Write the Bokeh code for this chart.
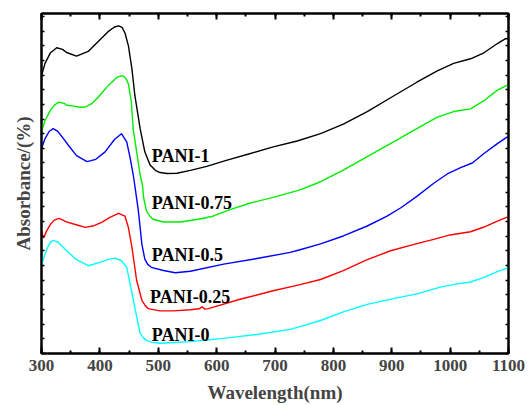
from bokeh.plotting import figure
from bokeh.models import LinearAxis, SingleIntervalTicker, Range1d, Label, CustomJSTickFormatter
from bokeh.embed import file_html
from bokeh.resources import INLINE

# ---- data (wavelength in nm, absorbance in arbitrary offset units) ----
wl_pani1 = [300, 306, 315, 326, 336, 343, 360, 380, 395, 414, 425, 432, 438, 443, 449, 455, 460, 469, 477, 486,
            495, 503, 515, 532, 555, 583, 618, 658, 697, 738, 778, 817, 858, 898, 943, 978, 1006,
            1035, 1058, 1081, 1095, 1100]
abs_pani1 = [1.894, 1.980, 2.050, 2.086, 2.075, 2.054, 2.029, 2.061, 2.120, 2.196, 2.228, 2.236, 2.225, 2.187, 2.097, 1.939,
             1.759, 1.534, 1.376, 1.286, 1.250, 1.235, 1.228, 1.230, 1.250, 1.277, 1.320, 1.365, 1.410, 1.450,
             1.500, 1.565, 1.650, 1.745, 1.851, 1.928, 1.980, 2.011, 2.052, 2.115, 2.149, 2.145]

wl_pani075 = [300, 306, 315, 322, 329, 339, 342, 355, 366, 375, 386, 397, 415, 428, 436, 440, 445, 449, 454, 457, 463, 469, 473,
              475, 480, 486, 492, 509, 538, 566, 583, 586, 589, 623, 658, 697, 743, 778, 817, 858,
              903, 943, 978, 1006, 1035, 1058, 1081, 1098, 1100]
abs_pani075 = [1.511, 1.590, 1.657, 1.695, 1.714, 1.707, 1.696, 1.688, 1.680, 1.682, 1.705, 1.748, 1.831, 1.880, 1.894, 1.893, 1.875, 1.838, 1.714,
               1.534, 1.376, 1.218, 1.149, 1.061, 0.971, 0.935, 0.914, 0.897, 0.897, 0.914, 0.926, 0.934,
               0.930, 0.982, 1.027, 1.065, 1.117, 1.172, 1.252, 1.343, 1.444, 1.534, 1.613, 1.651,
               1.669, 1.725, 1.797, 1.831, 1.822]

wl_pani05 = [300, 306, 313, 320, 328, 336, 346, 360, 378, 393, 409, 425, 437, 446, 452, 457, 460, 466, 472, 477, 482, 488, 509,
             529, 555, 612, 669, 726, 743, 778, 817, 858, 892, 915, 943, 972, 995, 1018, 1038,
             1058, 1081, 1098, 1100]
abs_pani05 = [1.399, 1.465, 1.515, 1.534, 1.515, 1.475, 1.421, 1.350, 1.309, 1.325, 1.376, 1.460, 1.500, 1.444, 1.331, 1.223, 1.142, 0.971,
              0.745, 0.644, 0.608, 0.588, 0.566, 0.551, 0.561, 0.610, 0.648, 0.690, 0.708, 0.748, 0.802,
              0.870, 0.937, 0.993, 1.072, 1.162, 1.225, 1.268, 1.300, 1.365, 1.432, 1.478, 1.473]

wl_pani025 = [300, 302, 304, 308, 315, 322, 330, 337, 341, 358, 375, 390, 403, 418, 432, 443, 449, 455, 463, 472, 478, 483, 503,
              526, 555, 570, 575, 580, 586, 640, 697, 743, 778, 817, 858, 898, 943, 972, 1000,
              1035, 1058, 1081, 1098, 1100]
abs_pani025 = [0.836, 0.805, 0.791, 0.830, 0.880, 0.910, 0.922, 0.910, 0.900, 0.880, 0.861, 0.872, 0.895, 0.930, 0.956, 0.937, 0.858, 0.723,
               0.498, 0.363, 0.325, 0.306, 0.291, 0.291, 0.299, 0.305, 0.318, 0.303, 0.306, 0.370, 0.428,
               0.470, 0.505, 0.566, 0.640, 0.701, 0.750, 0.779, 0.809, 0.831, 0.863, 0.903, 0.930,
               0.921]

wl_pani0 = [300, 305, 310, 315, 320, 328, 343, 360, 380, 400, 415, 426, 437, 446, 453, 461, 469, 475, 480, 490, 503, 555, 612,
            669, 726, 743, 778, 817, 858, 903, 943, 983, 1012, 1035, 1058, 1081, 1098, 1100]
abs_pani0 = [0.599, 0.668, 0.720, 0.758, 0.772, 0.760, 0.701, 0.640, 0.599, 0.622, 0.642, 0.651, 0.633, 0.588, 0.453, 0.291, 0.137,
             0.105, 0.088, 0.076, 0.070, 0.081, 0.103, 0.130, 0.165, 0.183, 0.225, 0.284, 0.335, 0.374, 0.407,
             0.453, 0.475, 0.488, 0.520, 0.559, 0.583, 0.580]

series_names = ["PANI-1", "PANI-0.75", "PANI-0.5", "PANI-0.25", "PANI-0"]
series_colors = ["#000000", "#00ee00", "#0000ff", "#ff0000", "#00ffff"]
label_pos = [(489, 1.35), (489, 1.03), (489, 0.675), (486, 0.385), (489, 0.128)]

FONT = "'Liberation Serif', 'Times New Roman', serif"

p = figure(width=528, height=405, x_range=Range1d(300, 1100), y_range=Range1d(0, 2.32),
           output_backend="svg", toolbar_location=None,
           min_border_left=41, min_border_right=20, min_border_top=13, min_border_bottom=48)
p.grid.visible = False
p.outline_line_color = "black"
p.outline_line_width = 2
p.background_fill_color = "white"
p.border_fill_color = "white"

xs = [wl_pani1, wl_pani075, wl_pani05, wl_pani025, wl_pani0]
ys = [abs_pani1, abs_pani075, abs_pani05, abs_pani025, abs_pani0]
for x, y, c in zip(xs, ys, series_colors):
    p.line(x, y, line_color=c, line_width=1.4, line_join="round")

for name, (lx, ly) in zip(series_names, label_pos):
    p.add_layout(Label(x=lx, y=ly, text=name, text_font=FONT, text_font_style="bold",
                       text_font_size="18px", text_baseline="middle", text_align="left",
                       text_color="black"))

blank = CustomJSTickFormatter(code="return ''")

def style_x(ax, labels=True):
    ax.ticker = SingleIntervalTicker(interval=100, num_minor_ticks=2)
    ax.axis_line_width = 2
    ax.major_tick_in = 6
    ax.major_tick_out = 0
    ax.minor_tick_in = 3
    ax.minor_tick_out = 0
    ax.major_tick_line_width = 2
    ax.minor_tick_line_width = 2
    if labels:
        ax.major_label_text_font = FONT
        ax.major_label_text_font_style = "bold"
        ax.major_label_text_font_size = "17px"
        ax.major_label_standoff = 6
    else:
        ax.formatter = blank
        ax.major_label_standoff = 0

def style_y(ax):
    ax.ticker = SingleIntervalTicker(interval=0.1, num_minor_ticks=0)
    ax.axis_line_width = 2
    ax.major_tick_in = 3
    ax.major_tick_out = 0
    ax.major_tick_line_width = 1.5
    ax.minor_tick_line_color = None
    ax.formatter = blank
    ax.major_label_standoff = 0

style_x(p.xaxis[0])
p.xaxis[0].axis_label = "Wavelength(nm)"
p.xaxis[0].axis_label_text_font = FONT
p.xaxis[0].axis_label_text_font_style = "bold"
p.xaxis[0].axis_label_text_font_size = "19px"
p.xaxis[0].axis_label_standoff = 8

style_y(p.yaxis[0])
p.yaxis[0].axis_label = "Absorbance/(%)"
p.yaxis[0].axis_label_text_font = FONT
p.yaxis[0].axis_label_text_font_style = "bold"
p.yaxis[0].axis_label_text_font_size = "19px"
p.yaxis[0].axis_label_standoff = 8

top = LinearAxis()
style_x(top, labels=False)
p.add_layout(top, "above")
right = LinearAxis()
style_y(right)
p.add_layout(right, "right")

open("out.html", "w").write(file_html(p, INLINE))
